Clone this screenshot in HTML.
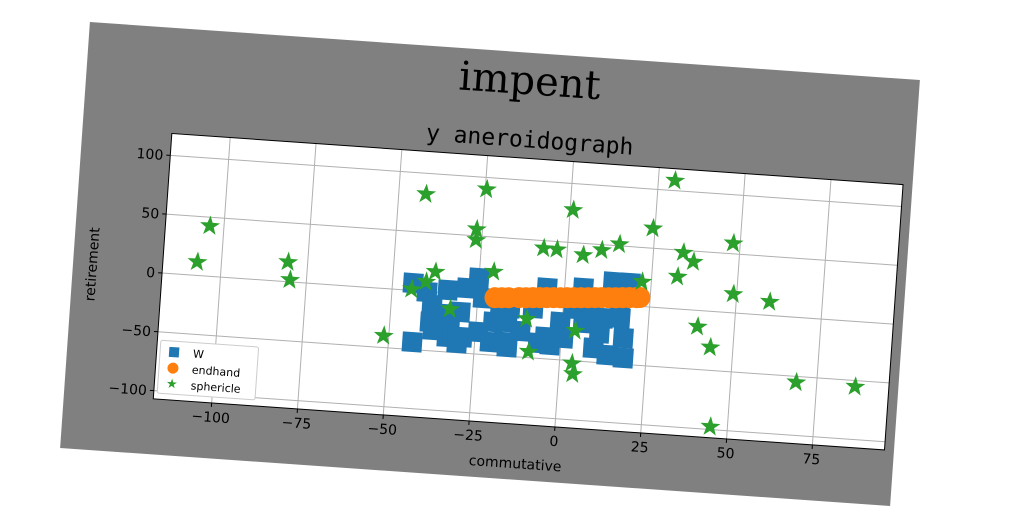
<!DOCTYPE html>
<html><head><meta charset="utf-8">
<style>
html,body{margin:0;padding:0;background:#fff;}
svg{display:block;}
text{font-family:"DejaVu Sans","Liberation Sans",sans-serif;}
</style></head>
<body>
<svg id="chart" width="1024" height="512" viewBox="0 0 1024 512" xmlns="http://www.w3.org/2000/svg">
  <rect x="0" y="0" width="1024" height="512" fill="#ffffff"/>
  <g id="rot" transform="rotate(4 490 264)">
    <rect x="74" y="50.5" width="832" height="427" fill="#808080"/>
    <text x="517" y="92" font-size="40" text-anchor="middle" fill="#000" style="font-family:'DejaVu Serif','Liberation Serif',serif">impent</text>
    <text x="521" y="145" font-size="23" text-anchor="middle" fill="#000" style="font-family:'DejaVu Sans Mono','Liberation Mono',monospace">y aneroidograph</text>
    <rect x="163.5" y="156" width="733" height="266" fill="#ffffff"/>
    <g id="grid"></g>
    <g id="marks"></g>
    <rect x="163.5" y="156" width="733" height="266" fill="none" stroke="#000" stroke-width="1"/>
    <g id="ticks"></g>
    <text x="529" y="466" font-size="14" text-anchor="middle" fill="#000">commutative</text>
    <text transform="translate(98 292) rotate(-90)" x="0" y="0" font-size="14" text-anchor="middle" fill="#000">retirement</text>
    <g>
      <rect x="167" y="363" width="98" height="53" fill="#fff" stroke="#cccccc" stroke-width="1" rx="2"/>
      <rect x="176" y="369" width="10" height="10" fill="#1f77b4"/>
      <text x="200" y="378" font-size="11" fill="#000">W</text>
      <circle cx="181" cy="390" r="5.5" fill="#ff7f0e"/>
      <text x="200" y="394" font-size="11" fill="#000">endhand</text>
      <text x="181" y="410" font-size="13" text-anchor="middle" fill="#2ca02c">★</text>
      <text x="200" y="410" font-size="11" fill="#000">sphericle</text>
    </g>
  </g>
</svg>
<script>
const xTicks = [-100, -75, -50, -25, 0, 25, 50, 75];
const yTicks = [100, 50, 0, -50, -100];
const wX = [-44.0,-39.8,-33.8,-28.3,-25.0,-23.4,-38.1,-38.3,-43.1,-32.6,-29.8,-33.1,-28.7,-24.2,-20.0,-20.5,-16.0,-16.7,-4.7,-3.1,-6.6,-0.6,0.6,6.1,11.8,16.7,18.0,9.5,13.6,18.4,14.0,18.9,5.4,-5.1,-15.4,-18.2,-8.7,7.8,16.4,-37.3,-30.1,-15.5,-35.5,-12.0,3.0,11.0];
const wY = [6.3,-0.4,2.5,5.3,14.5,-2.2,-11.1,-25.7,-43.6,-21.1,-15.4,-37.3,-36.5,-31.2,-21.9,-39.0,-21.1,-38.2,-31.5,-37.9,-37.0,-18.0,-31.3,-17.4,-12.0,-11.0,-27.7,-38.0,-43.1,-44.6,19.1,19.2,12.2,10.1,-9.0,-15.5,-7.7,-4.3,0.0,-32.2,-41.8,-42.2,-18.0,-28.0,-6.0,-25.0];
const eX = [-20,-18,-16,-13,-11,-9,-7,-5,-3,-1,1,3,5,7,9,11,13,15,17,19,21,22];
const eY = [-1.2,-0.8,-0.4,0.3,0.6,1.1,1.5,1.9,2.3,2.6,3.1,3.5,3.9,4.3,4.8,5.2,5.5,5.9,6.4,6.8,7.2,7.5];
const sX = [-104.1,-107.0,-80.7,-79.8,-42.1,-24.6,-26.7,-26.6,-20.9,-37.8,-40.3,-44.3,-32.8,-51.5,-10.4,-9.2,29.8,0.9,24.4,48.0,-6.9,-3.0,4.7,10.0,15.0,33.7,36.8,32.5,22.3,49.0,59.7,3.9,39.3,43.4,3.6,4.1,69.0,86.2,45.0];
const sY = [42.6,11.4,16.7,1.7,82.4,90.0,55.6,46.5,20.7,17.2,8.2,1.0,-13.5,-40.0,-17.3,-44.9,108.5,77.6,66.8,58.9,43.5,43.3,40.1,45.4,51.4,48.0,40.9,27.4,21.0,16.0,11.6,-24.4,-13.7,-30.5,-52.2,-61.2,-55.0,-55.2,-97.6];

const NS = "http://www.w3.org/2000/svg";
const X0 = 163.5, Y0 = 156, W = 733, H = 266;
const XMIN = -117, XMAX = 96, YMIN = -107, YMAX = 118.6;
function sx(v){ return X0 + (v - XMIN) / (XMAX - XMIN) * W; }
function sy(v){ return Y0 + (YMAX - v) / (YMAX - YMIN) * H; }
function mk(tag, attrs, parent){
  const el = document.createElementNS(NS, tag);
  for (const k in attrs) el.setAttribute(k, attrs[k]);
  parent.appendChild(el);
  return el;
}
const grid = document.getElementById('grid');
const ticks = document.getElementById('ticks');
const marks = document.getElementById('marks');

xTicks.forEach(t => {
  const x = sx(t);
  const g = mk('line', {x1:x, y1:Y0, x2:x, y2:Y0+H, stroke:'#b0b0b0', 'stroke-width':1}, grid);
  
  
  const tk = mk('line', {x1:x, y1:Y0+H, x2:x, y2:Y0+H+4, stroke:'#000', 'stroke-width':1}, ticks);
  
  
  const lb = mk('text', {x:x, y:Y0+H+19, 'font-size':14, 'text-anchor':'middle', fill:'#000'}, ticks);
  lb.textContent = t < 0 ? '\u2212' + Math.abs(t) : String(t);
  
  
});
yTicks.forEach(t => {
  const y = sy(t);
  const g = mk('line', {x1:X0, y1:y, x2:X0+W, y2:y, stroke:'#b0b0b0', 'stroke-width':1}, grid);
  
  
  const tk = mk('line', {x1:X0-4, y1:y, x2:X0, y2:y, stroke:'#000', 'stroke-width':1}, ticks);
  
  
  const lb = mk('text', {x:X0-7, y:y+5, 'font-size':14, 'text-anchor':'end', fill:'#000'}, ticks);
  lb.textContent = t < 0 ? '\u2212' + Math.abs(t) : String(t);
  
  
});

wX.forEach((v, i) => {
  const s = 20;
  const r = mk('rect', {x:sx(v)-s/2, y:sy(wY[i])-s/2, width:s, height:s, fill:'#1f77b4'}, marks);
  
  
});
eX.forEach((v, i) => {
  const c = mk('circle', {cx:sx(v), cy:sy(eY[i]), r:10.5, fill:'#ff7f0e'}, marks);
  
  
});
function starPts(cx, cy, R){
  const r = R * 0.4, pts = [];
  for (let k = 0; k < 10; k++){
    const a = -Math.PI/2 + k * Math.PI/5;
    const rr = k % 2 === 0 ? R : r;
    pts.push((cx + rr*Math.cos(a)).toFixed(1) + ',' + (cy + rr*Math.sin(a)).toFixed(1));
  }
  return pts.join(' ');
}
sX.forEach((v, i) => {
  const p = mk('polygon', {points:starPts(sx(v), sy(sY[i]), 10.5), fill:'#2ca02c'}, marks);
  
  
});
</script>
</body></html>
